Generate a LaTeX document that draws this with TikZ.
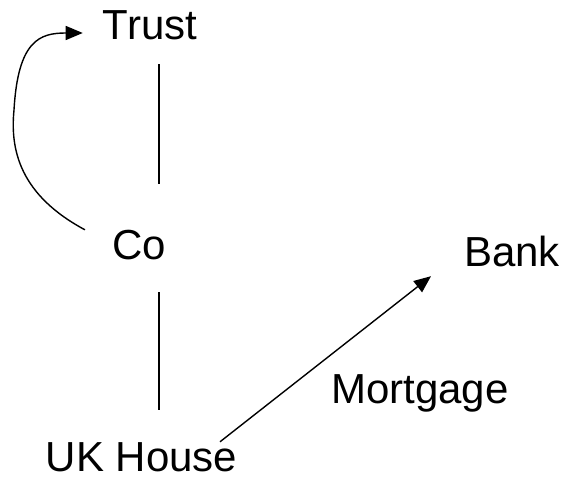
\documentclass[tikz,border=0pt]{standalone}
\usepackage{fontspec}
\setmainfont{Liberation Sans}
\usetikzlibrary{arrows.meta,calc}
\begin{document}
\begin{tikzpicture}[x=1pt,y=1pt,
  lbl/.style={inner sep=0pt,text height=30pt,text depth=9pt,anchor=base,font=\fontsize{42}{46}\selectfont},
  link/.style={line width=1.4pt},
  flow/.style={line width=1.4pt,-{Triangle[length=17pt,width=14pt]}}]
\useasboundingbox (0,0) rectangle (567,482);
\node[lbl] (trust) at (150,442) {Trust};
\node[lbl] (co) at (139,222) {Co};
\node[lbl] (bank) at (512,215) {Bank};
\node[lbl] (mort) at (420,79) {Mortgage};
\node[lbl] (house) at (141.5,11) {UK House};
% ownership links
\draw[link] ($(trust.south)+(9,-15)$) -- ($(co.north)+(20,46)$);
\draw[link] ($(co.south)+(20,-23)$) -- ($(house.north)+(17.5,31)$);
% mortgage to the bank
\draw[flow] ($(house.north)+(78.5,-1)$) -- ($(bank.south)+(-81,0)$);
% Co back up to the trust
\draw[flow] ($(co.north west)+(-27,0)$) .. controls (20,287) and (10,332) .. (14,372)
  .. controls (18,442) and (40,449) .. ($(trust.west)+(-20,-3.5)$);
\end{tikzpicture}
\end{document}
